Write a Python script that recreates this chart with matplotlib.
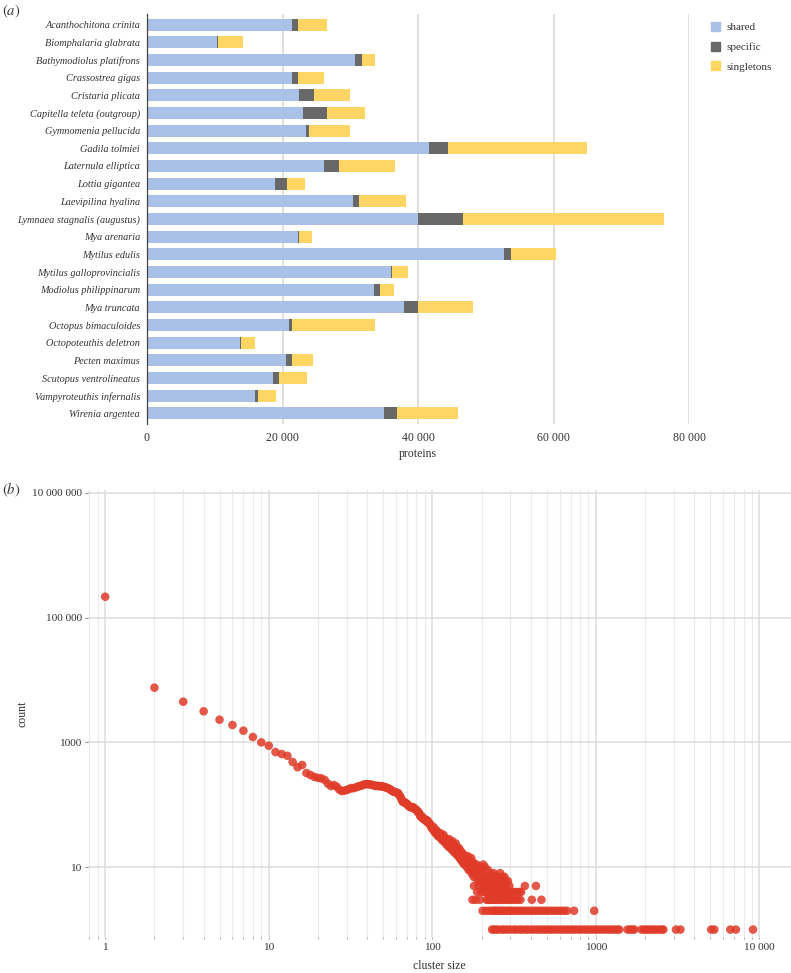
import matplotlib
matplotlib.use('Agg')
import matplotlib.pyplot as plt
import matplotlib.ticker as tkr
import numpy as np
from matplotlib import rcParams
from matplotlib.patches import Patch

# ---------------------------------------------------------------- data (a)
species = ['Acanthochitona crinita', 'Biomphalaria glabrata', 'Bathymodiolus platifrons',
           'Crassostrea gigas', 'Cristaria plicata', 'Capitella teleta (outgroup)',
           'Gymnomenia pellucida', 'Gadila tolmiei', 'Laternula elliptica',
           'Lottia gigantea', 'Laevipilina hyalina', 'Lymnaea stagnalis (augustus)',
           'Mya arenaria', 'Mytilus edulis', 'Mytilus galloprovincialis',
           'Modiolus philippinarum', 'Mya truncata', 'Octopus bimaculoides',
           'Octopoteuthis deletron', 'Pecten maximus', 'Scutopus ventrolineatus',
           'Vampyroteuthis infernalis', 'Wirenia argentea']
shared     = [21430, 10380, 30630, 21430, 22470, 22960, 23450, 41640, 26150, 18930, 30430, 40020,
              22220, 52660, 36040, 33440, 37860, 20900, 13720, 20500, 18630, 15980, 34910]
specific   = [790, 60, 1130, 890, 2210, 3540, 450, 2800, 2170, 1770, 840, 6590,
              250, 1080, 100, 880, 2070, 490, 145, 890, 790, 350, 1970]
singletons = [4280, 3670, 1820, 3740, 5310, 5610, 6090, 20410, 8260, 2560, 6890, 29600,
              1820, 6540, 2310, 2160, 8160, 12190, 2115, 3140, 4230, 2700, 8990]
prot_ticks = [0, 20000, 40000, 60000, 80000]

# ---------------------------------------------------------------- data (b)
# one count per cluster size 1..200
head_counts = [216000, 7530, 4490, 3150, 2310, 1900, 1540, 1220, 1000, 885,
               700, 650, 610, 485, 400, 435, 323, 300, 280, 270,
               265, 250, 218, 200, 207, 195, 175, 166, 168, 173,
               179, 186, 184, 190, 195, 200, 203, 210, 214, 215,
               213, 211, 208, 204, 200, 202, 199, 197, 200, 195,
               193, 190, 186, 182, 179, 172, 166, 162, 160, 158,
               155, 153, 140, 133, 120, 111, 112, 108, 106, 104,
               98, 95, 93, 91, 90, 92, 89, 86, 84, 83,
               79, 76, 74, 68, 64, 66, 62, 60, 58, 59,
               56, 57, 53, 55, 51, 50, 49, 45, 43, 42,
               40, 44, 37, 38, 35, 39, 33, 36, 31, 34,
               31, 35, 29, 32, 27, 30, 33, 26, 28, 25,
               29, 23, 27, 24, 26, 21, 28, 22, 25, 20,
               23, 19, 26, 21, 18, 22, 17, 20, 24, 18,
               16, 21, 19, 15, 17, 20, 14, 16, 18, 13,
               15, 17, 12, 14, 16, 13, 11, 15, 12, 14,
               11, 13, 10, 12, 15, 11, 9, 13, 10, 12,
               9, 11, 14, 8, 10, 3, 12, 9, 7, 5,
               11, 8, 10, 3, 9, 7, 11, 4, 8, 6,
               10, 5, 7, 9, 3, 6, 8, 4, 7, 10]
mid_sizes  = [201, 205, 207, 210, 216, 219, 227, 232, 238, 245, 252, 260, 268, 276]
mid_counts = [9, 11, 7, 10, 7, 9, 8, 7, 8, 7, 7, 8, 7, 7]
sizes_c6 = [202, 208, 212, 218, 224, 229, 235, 241, 248, 255, 262, 270, 279, 290]
sizes_c5 = [204, 209, 214, 221, 226, 231, 237, 243, 250, 257, 265, 273, 282, 296, 368, 430]
sizes_c4 = [206, 211, 217, 222, 228, 234, 240, 246, 253, 261, 269, 277, 286, 295, 305, 316,
            328, 340, 349]
sizes_c3 = [215, 220, 225, 230, 236, 242, 249, 256, 263, 271, 280, 289, 298, 309, 320, 333,
            346, 406, 465]
sizes_c2 = [203, 213, 223, 233, 239, 244, 251, 258, 266, 274, 283, 293, 302, 312, 323, 336,
            348, 361, 376, 391, 408, 424, 442, 459, 479, 498, 519, 541, 563, 587, 612, 639,
            667, 736, 977]
sizes_c1 = [232, 238, 247, 254, 267, 276, 288, 300, 315, 326, 342, 355, 372, 386, 404, 419,
            439, 456, 477, 495, 518, 538, 563, 585, 612, 636, 665, 691, 722, 751, 785, 816,
            853, 887, 927, 964, 1007, 1048, 1095, 1139, 1190, 1238, 1293, 1345, 1390, 1560,
            1620, 1672, 1720, 1900, 1970, 2040, 2110, 2180, 2260, 2350, 2440, 2520, 2585,
            3090, 3290, 5070, 5300, 6640, 7180, 9140]
count_ticks = [10, 1000, 100000, 10000000]
size_ticks  = [1, 10, 100, 1000, 10000]

# ---------------------------------------------------------------- style
rcParams['font.family'] = 'serif'
rcParams['font.serif'] = ['Liberation Serif', 'DejaVu Serif']
rcParams['mathtext.fontset'] = 'stix'
TXT = '#333333'
GRID = '#dcdcdc'
W, H = 791., 973.


def thin_space_fmt(x, pos=None):
    v = int(round(x))
    if v < 10000:
        return str(v)
    return '{:,}'.format(v).replace(',', ' ')


fig = plt.figure(figsize=(7.91, 9.73), dpi=100)

# ---------------------------------------------------------------- panel (a)
ax = fig.add_axes([147 / W, 1 - 424 / H, (689.3 - 147) / W, (424 - 14) / H])
ypos = np.arange(len(species))
left2 = np.array(shared)
left3 = left2 + np.array(specific)
ax.barh(ypos, shared, height=0.68, color='#a9c1e7', label='shared', zorder=2)
ax.barh(ypos, specific, left=left2, height=0.68, color='#686868', label='specific', zorder=2)
ax.barh(ypos, singletons, left=left3, height=0.68, color='#ffd664', label='singletons', zorder=2)
ax.set_ylim(len(species) - 1 + 0.6, -0.6)
ax.set_xlim(0, 80000)
ax.set_yticks(ypos)
ax.set_yticklabels(species, style='italic', color=TXT)
ax.set_xticks(prot_ticks)
ax.xaxis.set_major_formatter(tkr.FuncFormatter(thin_space_fmt))
ax.tick_params(axis='both', length=0, colors=TXT, labelsize=8.5)
ax.tick_params(axis='y', pad=5, labelsize=7.4)
ax.tick_params(axis='x', pad=6)
ax.xaxis.grid(True, color=GRID, linewidth=1.3, zorder=0)
ax.set_axisbelow(True)
for s in ['top', 'right', 'bottom']:
    ax.spines[s].set_visible(False)
ax.spines['left'].set_color('#444444')
ax.spines['left'].set_linewidth(0.9)
ax.set_xlabel('proteins', fontsize=8.5, color=TXT, labelpad=3)

handles = [Patch(color='#a9c1e7', label='shared'),
           Patch(color='#686868', label='specific'),
           Patch(color='#ffd664', label='singletons')]
leg = ax.legend(handles=handles, loc='upper left', bbox_to_anchor=(711 / W, 1 - 22 / H),
                bbox_transform=fig.transFigure, frameon=False, fontsize=8,
                handlelength=0.85, handleheight=0.85, handletextpad=0.55,
                labelspacing=0.85, borderpad=0, borderaxespad=0)
for t in leg.get_texts():
    t.set_color(TXT)

fig.text(2 / W, 1 - 11 / H, '$(a)$', fontsize=10.5, color=TXT, va='center', ha='left')

# ---------------------------------------------------------------- panel (b)
bx = fig.add_axes([88 / W, 1 - 937 / H, (791 - 88) / W, (937 - 490) / H])
sizes = np.concatenate([np.arange(1, len(head_counts) + 1), mid_sizes, sizes_c6, sizes_c5,
                        sizes_c4, sizes_c3, sizes_c2, sizes_c1])
counts = np.concatenate([head_counts, mid_counts, np.full(len(sizes_c6), 6),
                         np.full(len(sizes_c5), 5), np.full(len(sizes_c4), 4),
                         np.full(len(sizes_c3), 3), np.full(len(sizes_c2), 2),
                         np.full(len(sizes_c1), 1)])
bx.scatter(sizes, counts, s=38, color='#df3b28', alpha=0.85, edgecolors='none', zorder=3)
bx.set_xscale('log')
bx.set_yscale('log')
bx.set_xlim(0.785, 15600)
bx.set_ylim(0.76, 1.11e7)
bx.xaxis.set_major_locator(tkr.FixedLocator(size_ticks))
bx.xaxis.set_minor_locator(tkr.LogLocator(base=10, subs=range(2, 10), numticks=30))
bx.xaxis.set_minor_formatter(tkr.NullFormatter())
bx.xaxis.set_major_formatter(tkr.FuncFormatter(thin_space_fmt))
bx.yaxis.set_major_locator(tkr.FixedLocator(count_ticks))
bx.yaxis.set_minor_locator(tkr.NullLocator())
bx.yaxis.set_major_formatter(tkr.FuncFormatter(thin_space_fmt))
bx.xaxis.grid(True, which='major', color=GRID, linewidth=1.1, zorder=0)
bx.xaxis.grid(True, which='minor', color='#ebebeb', linewidth=0.8, zorder=0)
bx.yaxis.grid(True, which='major', color=GRID, linewidth=1.1, zorder=0)
bx.set_axisbelow(True)
for s in bx.spines.values():
    s.set_visible(False)
bx.tick_params(axis='y', length=2.5, width=0.6, color='#777777', labelcolor=TXT,
               labelsize=8.2, pad=2)
bx.tick_params(axis='x', which='both', length=1.5, width=0.6, color='#999999', labelsize=8.2,
               pad=2.5, labelcolor=TXT)
bx.set_xlabel('cluster size', fontsize=8.5, color=TXT, labelpad=6)
bx.set_ylabel('count', fontsize=8.5, color=TXT, labelpad=2)

fig.text(2 / W, 1 - 490 / H, '$(b)$', fontsize=10.5, color=TXT, va='center', ha='left')

plt.savefig('out.png', dpi=100)
